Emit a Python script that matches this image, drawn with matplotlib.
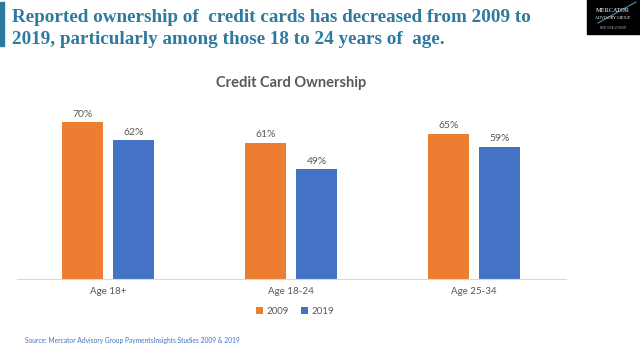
import numpy as np
import matplotlib.pyplot as plt
from matplotlib.patches import Rectangle

categories = ['Age 18+', 'Age 18-24', 'Age 25-34']
series = ['2009', '2019']
values_2009 = [70, 61, 65]
values_2019 = [62, 49, 59]

colors = ['#ED7D31', '#4472C4']
label_color = '#595959'
title_color = '#2E7A9E'

plt.rcParams['font.family'] = ['Lato', 'DejaVu Sans']

fig = plt.figure(figsize=(6.4, 3.6), dpi=100)
W, H = 640, 360

# axes placed in pixel terms
left, right, top, bottom = 16.5, 565.5, 100, 279
ax = fig.add_axes([left / W, 1 - bottom / H, (right - left) / W, (bottom - top) / H])

x = np.arange(len(categories))
w = 0.224
off = 0.141
b1 = ax.bar(x - off, values_2009, w, color=colors[0], label=series[0])
b2 = ax.bar(x + off, values_2019, w, color=colors[1], label=series[1])
for bars in (b1, b2):
    for r in bars:
        ax.text(r.get_x() + r.get_width() / 2, r.get_height() + 1.6, '%d%%' % r.get_height(),
                ha='center', va='bottom', fontsize=7.5, color=label_color)

ax.set_xlim(-0.5, 2.5)
ax.set_ylim(0, 80)
ax.set_yticks([])
ax.set_xticks(x)
ax.set_xticklabels(categories, fontsize=7, color=label_color)
ax.tick_params(axis='x', length=0, pad=6)
for s in ['top', 'left', 'right']:
    ax.spines[s].set_visible(False)
ax.spines['bottom'].set_color('#D9D9D9')

fig.text(291 / W, 1 - 83 / H, 'Credit Card Ownership', ha='center', va='center',
         fontsize=10.5, fontweight='bold', color=label_color)

leg = fig.legend(loc='center', bbox_to_anchor=(295 / W, 1 - 311 / H), ncol=2, frameon=False,
                 fontsize=7, handlelength=0.7, handleheight=0.7, columnspacing=1.2,
                 handletextpad=0.4)
for t in leg.get_texts():
    t.set_color(label_color)

# header
fig.patches.append(Rectangle((0, 1 - 46 / H), 4 / W, 44 / H, transform=fig.transFigure,
                             color=title_color))
fig.text(12 / W, 1 - 17 / H, 'Reported ownership of  credit cards has decreased from 2009 to',
         family=['Liberation Serif'], fontweight='bold', fontsize=13.8, color=title_color,
         va='center', ha='left')
fig.text(12 / W, 1 - 40 / H, '2019, particularly among those 18 to 24 years of  age.',
         family=['Liberation Serif'], fontweight='bold', fontsize=13.8, color=title_color,
         va='center', ha='left')

# logo
fig.patches.append(Rectangle((587 / W, 1 - 34 / H), 53 / W, 34 / H, transform=fig.transFigure,
                             color='black'))
fig.text(613 / W, 1 - 11 / H, 'MERCATOR', family=['Liberation Serif'], fontsize=4.5,
         color='white', ha='center', va='center')
fig.text(613 / W, 1 - 18 / H, 'ADVISORY GROUP', family=['Liberation Serif'], fontsize=3,
         color='white', ha='center', va='center')
fig.lines.append(plt.Line2D([598 / W, 636 / W], [1 - 23 / H, 1 - 2 / H], transform=fig.transFigure,
                            color='#4A90B8', lw=0.8))
fig.text(613 / W, 1 - 28 / H, 'MERCATOR ADVISORY', family=['Liberation Serif'], fontsize=1.8,
         color='#BBBBBB', ha='center', va='center')

fig.text(25 / W, 1 - 340 / H, 'Source: Mercator Advisory Group PaymentsInsights Studies 2009 & 2019',
         fontsize=4.8, color='#4472C4', ha='left', va='center')

fig.savefig('out.png', dpi=100)
